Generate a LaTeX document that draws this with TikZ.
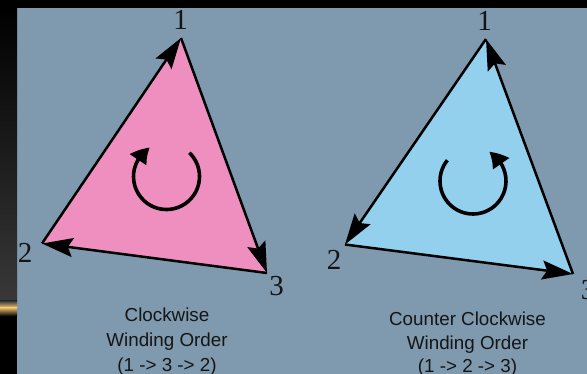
\documentclass[tikz,border=0pt]{standalone}
\usepackage{fontspec}
\setmainfont{Liberation Sans}
\newfontfamily\digitfont{Liberation Serif}
\usetikzlibrary{arrows.meta,bending}
\definecolor{slate}{HTML}{7F99AE}
\definecolor{pinkfill}{HTML}{EF8FC0}
\definecolor{bluefill}{HTML}{92D0EE}
\definecolor{inkc}{HTML}{151515}
\definecolor{goldc}{HTML}{F0C270}
\definecolor{stripgray}{HTML}{383838}
\tikzset{
  edge/.style={draw=black, line width=2.5pt, -{Stealth[length=31pt,width=19pt,inset=5pt]}},
  spin/.style={draw=black, line width=3.6pt, -{Triangle[length=17pt,width=19pt,bend]}},
  vlabel/.style={font=\digitfont\fontsize{29}{29}\selectfont, text=inkc, inner sep=0pt},
  caption/.style={font=\fontsize{18.8}{22}\selectfont, text=inkc, inner sep=0pt, anchor=base}
}
\begin{document}
\begin{tikzpicture}[x=1pt,y=-1pt]
\useasboundingbox (0,0) rectangle (587,374);
\clip (0,0) rectangle (587,374);
% background
\fill[slate] (0,0) rectangle (587,374);
\fill[black] (0,0) rectangle (587,8);
\fill[black] (0,0) rectangle (17,374);
\shade[top color=black, bottom color=stripgray] (0,8) rectangle (17,301);
\shade[top color=stripgray, bottom color=goldc] (0,301) rectangle (17,307.5);
\shade[top color=goldc, bottom color=black] (0,307.5) rectangle (17,316);

% left triangle
\coordinate (L1) at (181,38);
\coordinate (L2) at (42,243.5);
\coordinate (L3) at (267,273);
\fill[pinkfill] (L1) -- (L3) -- (L2) -- cycle;
\draw[edge] (L1) -- (L3);
\draw[edge] (L3) -- (L2);
\draw[edge] (L2) -- (L1);
\coordinate (LC) at (166.5,176.5);
\draw[spin] (LC) ++(-46:33) arc[start angle=-46, end angle=240, radius=33];
\node[vlabel] (l1) at (180.5,20) {1};
\node[vlabel] (l2) at (25,253) {2};
\node[vlabel] (l3) at (276.5,286) {3};

% right triangle
\coordinate (R1) at (486,39);
\coordinate (R2) at (345,244.5);
\coordinate (R3) at (573,274);
\fill[bluefill] (R1) -- (R2) -- (R3) -- cycle;
\draw[edge] (R1) -- (R2);
\draw[edge] (R2) -- (R3);
\draw[edge] (R3) -- (R1);
\coordinate (RC) at (473,181);
\draw[spin] (RC) ++(-141:33) arc[start angle=-141, end angle=-421, radius=33];
\node[vlabel] (r1) at (484.5,21) {1};
\node[vlabel] (r2) at (334,259.5) {2};
\node[vlabel] (r3) at (588,290) {3};

% captions
\node[caption] (c1a) at (167,322) {Clockwise};
\node[caption] (c1b) at (167,347) {Winding Order};
\node[caption] (c1c) at (167,371) {(1 -> 3 -> 2)};
\node[caption] (c2a) at (467.5,326) {Counter Clockwise};
\node[caption] (c2b) at (467.5,349.5) {Winding Order};
\node[caption] (c2c) at (467.5,373) {(1 -> 2 -> 3)};
\end{tikzpicture}
\end{document}
